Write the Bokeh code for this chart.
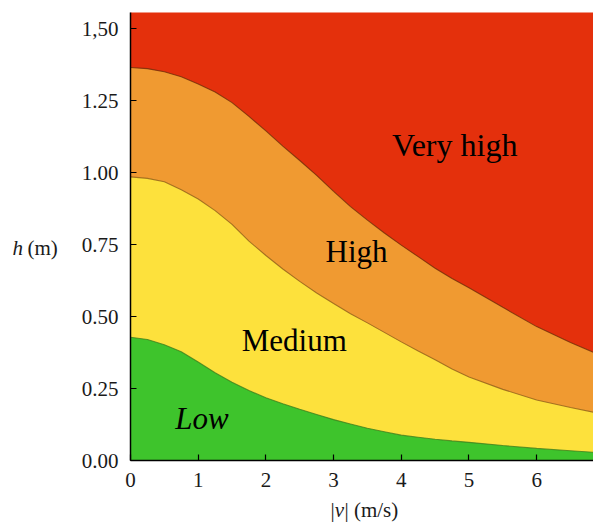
from bokeh.plotting import figure
from bokeh.models import Range1d, FixedTicker, Label
from bokeh.layouts import row, column
from bokeh.embed import file_html
from bokeh.resources import INLINE

# ---- data ----
velocity = [0, 0.25, 0.5, 0.75, 1.0, 1.25, 1.5, 1.75, 2.0, 2.25, 2.5, 2.75, 3.0,
            3.25, 3.5, 3.75, 4.0, 4.25, 4.5, 4.75, 5.0, 5.5, 6.0, 6.5, 7.0]
high_top = [1.365, 1.361, 1.350, 1.333, 1.308, 1.280, 1.243, 1.195, 1.145, 1.092, 1.042, 0.990, 0.935,
            0.882, 0.835, 0.790, 0.748, 0.708, 0.668, 0.632, 0.600, 0.532, 0.465, 0.410, 0.360]
medium_top = [0.985, 0.980, 0.968, 0.940, 0.908, 0.868, 0.820, 0.762, 0.712, 0.665, 0.622, 0.582, 0.545,
              0.510, 0.478, 0.445, 0.412, 0.380, 0.350, 0.318, 0.290, 0.247, 0.210, 0.184, 0.160]
low_top = [0.428, 0.420, 0.402, 0.378, 0.342, 0.305, 0.272, 0.243, 0.218, 0.197, 0.178, 0.160, 0.142,
           0.127, 0.112, 0.100, 0.088, 0.081, 0.074, 0.068, 0.063, 0.052, 0.042, 0.034, 0.026]

zone_labels = ["Very high", "High", "Medium", "Low"]
zone_label_x = [4.79, 3.34, 2.42, 1.056]
zone_label_y = [1.096, 0.726, 0.418, 0.146]

x_ticks = [0, 1, 2, 3, 4, 5, 6]
y_ticks = [0, 0.25, 0.5, 0.75, 1.0, 1.25, 1.5]
y_tick_labels = ["0.00", "0.25", "0.50", "0.75", "1.00", "1.25", "1,50"]

RED = "#e4300c"
ORANGE = "#f09a31"
YELLOW = "#fde13c"
GREEN = "#3ec42c"
FONT = "Liberation Serif"
TXT = "#1a1a1a"

# ---- main plot ----
p = figure(width=515, height=495, output_backend="svg", toolbar_location=None,
           x_range=Range1d(0, 6.84), y_range=Range1d(0, 1.556),
           min_border_left=52, min_border_right=0, min_border_top=12, min_border_bottom=35)
p.background_fill_color = RED
p.border_fill_color = "white"
p.outline_line_color = None
p.grid.visible = False

p.varea(x=velocity, y1=0, y2=high_top, fill_color=ORANGE)
p.varea(x=velocity, y1=0, y2=medium_top, fill_color=YELLOW)
p.varea(x=velocity, y1=0, y2=low_top, fill_color=GREEN)
p.line(velocity, high_top, line_color="#6a2a08", line_alpha=0.75, line_width=1.1)
p.line(velocity, medium_top, line_color="#8a5a18", line_alpha=0.75, line_width=1.1)
p.line(velocity, low_top, line_color="#3c7a1c", line_alpha=0.75, line_width=1.1)

for i, t in enumerate(zone_labels):
    p.add_layout(Label(x=zone_label_x[i], y=zone_label_y[i], text=t, text_align="center",
                       text_baseline="alphabetic", text_font=FONT,
                       text_font_size="32px" if t == "Very high" else "31px",
                       text_font_style="italic" if t == "Low" else "normal", text_color="black"))

for ax in (p.xaxis[0], p.yaxis[0]):
    ax.axis_line_color = "black"
    ax.axis_line_width = 1.5
    ax.major_tick_in = 6
    ax.major_tick_out = 0
    ax.minor_tick_line_color = None
    ax.major_tick_line_color = "black"
    ax.major_tick_line_width = 1.2
    ax.major_label_text_font = FONT
    ax.major_label_text_font_size = "21px"
    ax.major_label_text_color = TXT

p.xaxis.ticker = FixedTicker(ticks=x_ticks)
p.yaxis.ticker = FixedTicker(ticks=y_ticks)
p.yaxis.major_label_overrides = {t: l for t, l in zip(y_ticks, y_tick_labels)}
p.xaxis.major_label_overrides = {t: str(t) for t in x_ticks}
p.yaxis.major_label_standoff = 12
p.xaxis.major_label_standoff = 12


def label_panel(width, height):
    f = figure(width=width, height=height, output_backend="svg", toolbar_location=None,
               x_range=Range1d(0, width), y_range=Range1d(0, height),
               x_axis_type=None, y_axis_type=None, min_border=0,
               min_border_left=0, min_border_right=0, min_border_top=0, min_border_bottom=0)
    f.outline_line_color = None
    f.grid.visible = False
    f.background_fill_color = "white"
    f.border_fill_color = "white"
    return f


def add_text(f, x, y, text, italic=False):
    f.add_layout(Label(x=x, y=y, text=text, text_font=FONT, text_font_size="21px",
                       text_baseline="alphabetic", text_align="left",
                       text_font_style="italic" if italic else "normal", text_color=TXT))


# y-axis title panel (left)
py = label_panel(78, 495)
add_text(py, 12, 235, "h", italic=True)
add_text(py, 27, 235, "(m)")

# x-axis title panel (full width, below)
px = label_panel(593, 30)
add_text(px, 330, 16, "|")
add_text(px, 334.2, 16, "v", italic=True)
add_text(px, 344, 16, "| (m/s)")

layout = column(row(py, p, spacing=0), px, spacing=0)

open("out.html", "w").write(file_html(layout, INLINE))
